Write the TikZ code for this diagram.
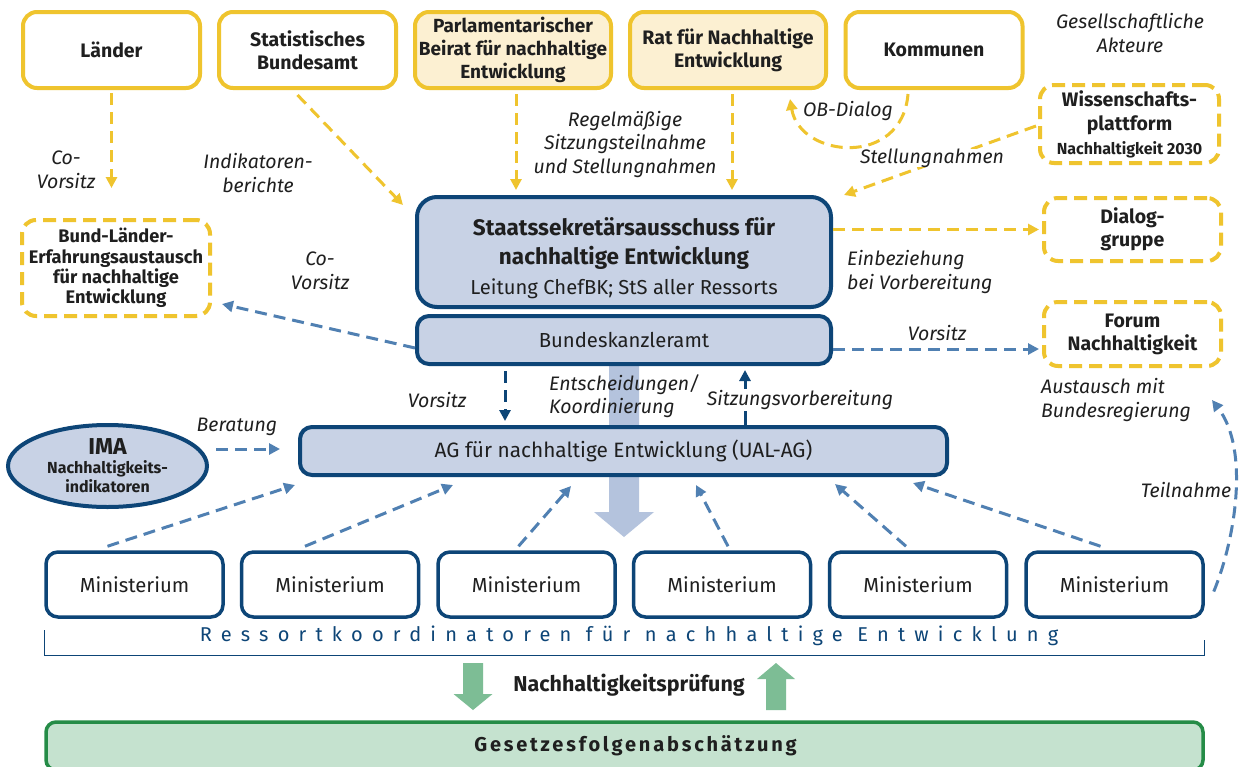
\documentclass[tikz,border=0pt]{standalone}
\usepackage{fontspec}
\setmainfont{Fira Sans}
\usetikzlibrary{arrows.meta,calc,shapes.geometric}
\definecolor{yel}{HTML}{EFC42E}
\definecolor{yelfill}{HTML}{FCF0D2}
\definecolor{dblue}{HTML}{0D4577}
\definecolor{lblue}{HTML}{C8D2E5}
\definecolor{mblue}{HTML}{5080B2}
\definecolor{sblue}{HTML}{B4C3DD}
\definecolor{garr}{HTML}{7DBD95}
\definecolor{gfill}{HTML}{C5E2CF}
\definecolor{gline}{HTML}{258C47}
\definecolor{txt}{HTML}{1F1F1F}
\newcommand\fB{\bfseries\fontsize{19.5}{23}\selectfont}
\newcommand\fR{\fontsize{20.3}{23}\selectfont}
\newcommand\fI{\itshape\fontsize{19.5}{23.5}\selectfont}
\tikzset{
  every node/.style={text=txt},
  ybox/.style={draw=yel, line width=4pt, rounded corners=14pt, align=center, font=\fB, minimum width=177pt, minimum height=76pt, inner sep=2pt},
  ydash/.style={ybox, dash pattern=on 13pt off 7pt},
  bbox/.style={draw=dblue, line width=4pt, fill=lblue, rounded corners=12pt, align=center, font=\fR, inner sep=2pt},
  mbox/.style={draw=dblue, line width=3.5pt, fill=white, rounded corners=12pt, minimum width=177pt, minimum height=65pt, font=\fR},
  yarr/.style={draw=yel, line width=3pt, dash pattern=on 12pt off 7pt, -{Triangle[length=11pt,width=11pt]}},
  barr/.style={draw=mblue, line width=3pt, dash pattern=on 12pt off 7pt, -{Triangle[length=11pt,width=11pt]}},
  darr/.style={draw=dblue, line width=3pt, -{Triangle[length=11pt,width=11pt]}},
  lab/.style={font=\fI, align=center, inner sep=1pt},
}
\begin{document}
\begin{tikzpicture}[x=1pt,y=-1pt]
\useasboundingbox (0,0) rectangle (1241,766);
\clip (0,0) rectangle (1241,766);
\fill[white] (0,0) rectangle (1241,766);
% big light-blue arrow
\fill[sblue] (609,362) -- (639,362) -- (639,512) -- (654,512) -- (624,537) -- (594,512) -- (609,512) -- cycle;

% top boxes
\node[ybox] (laender) at (111.5,50) {Länder};
\node[ybox] (stat) at (307.5,50) {Statistisches\\Bundesamt};
\node[ybox, fill=yelfill, minimum width=196pt, font=\bfseries\fontsize{19}{23}\selectfont] (parl) at (513,50) {Parlamentarischer\\Beirat für nachhaltige\\Entwicklung};
\node[ybox, fill=yelfill, minimum width=196pt] (rat) at (728,50) {Rat für Nachhaltige\\Entwicklung};
\node[ybox] (kom) at (934,50) {Kommunen};
\node[lab] (ges) at (1130,33) {Gesellschaftliche\\Akteure};

% dashed yellow boxes
\node[ydash, minimum width=179pt, minimum height=78pt, font=\bfseries\fontsize{19.5}{24}\selectfont] (wiss) at (1129.5,124) {Wissenschafts-\\plattform\\{\fontsize{16}{19}\selectfont Nachhaltigkeit 2030}};
\node[ydash, minimum height=63pt] (dialog) at (1132.5,229.5) {Dialog-\\gruppe};
\node[ydash, minimum height=64pt] (forum) at (1132.5,334) {Forum\\Nachhaltigkeit};
\node[ydash, minimum width=188pt, minimum height=96pt, font=\bfseries\fontsize{18.2}{20.3}\selectfont] (bl) at (116,268) {Bund-Länder-\\Erfahrungsaustausch\\für nachhaltige\\Entwicklung};

% blue boxes
\node[bbox, minimum width=414pt, minimum height=110pt, rounded corners=20pt, font=\fontsize{22.5}{29.5}\selectfont] (staats) at (624,252) {{\bfseries\rule{0pt}{30pt}Staatssekretärsausschuss für}\\{\bfseries nachhaltige Entwicklung}\\{\fontsize{20.2}{29.5}\selectfont Leitung ChefBK; StS aller Ressorts}};
\node[bbox, minimum width=414pt, minimum height=48pt] (bka) at (624,340) {Bundeskanzleramt};
\node[bbox, minimum width=647pt, minimum height=48pt, font=\fontsize{20.8}{23}\selectfont] (ag) at (623.5,451) {AG für nachhaltige Entwicklung (UAL-AG)};
\node[ellipse, draw=dblue, line width=4pt, fill=lblue, minimum width=199pt, minimum height=82pt, align=center, inner sep=0pt, font=\bfseries\fontsize{16}{19}\selectfont] (ima) at (107.5,466) {{\fontsize{23}{22}\selectfont IMA}\\Nachhaltigkeits-\\indikatoren};

% Ministerien
\foreach \i/\x in {1/134.5,2/330,3/526.5,4/722,5/918,6/1114.5}
  \node[mbox] (m\i) at (\x,584.5) {Ministerium};

% bracket
\draw[dblue, line width=1pt] (44,630) -- (44,655) -- (1204,655) -- (1204,640);
\node[text=dblue, font=\fontsize{20}{22}\selectfont\addfontfeature{LetterSpace=46}] (ress) at (629,636) {Ressortkoordinatoren für nachhaltige Entwicklung};

% green arrows and box
\fill[garr] (463,663) -- (483,663) -- (483,694) -- (492.5,694) -- (473,710) -- (453.5,694) -- (463,694) -- cycle;
\fill[garr] (766,710) -- (786,710) -- (786,679) -- (795,679) -- (776,663) -- (757,679) -- (766,679) -- cycle;
\node[font=\bfseries\fontsize{21.5}{24}\selectfont] (nhp) at (629,685) {Nachhaltigkeitsprüfung};
\node[draw=gline, fill=gfill, line width=3.5pt, rounded corners=10pt, minimum width=1157pt, minimum height=48pt, font=\bfseries\fontsize{20}{22}\selectfont\addfontfeature{LetterSpace=14}] (gfa) at (624.5,746) {\hspace*{22pt}Gesetzesfolgenabschätzung};

% yellow connectors
\draw[yarr] ($(laender.south)+(0,3)$) -- ($(bl.north)+(-4.5,-30)$);
\draw[yarr] ($(stat.south)+(-10,5)$) -- ($(staats.north west)+(-12,10)$);
\draw[yarr] ($(parl.south)+(3,4)$) -- ($(staats.north -| parl.south)+(3,-5)$);
\draw[yarr] ($(rat.south)+(4,4)$) -- ($(staats.north -| rat.south)+(4,-5)$);
\draw[yarr] ($(kom.south)+(-26,4)$) .. controls (902,168) and (800,158) .. ($(rat.south east)+(-38,9)$);
\draw[yarr] ($(wiss.west)+(-2,2)$) -- ($(staats.north east)+(11,0)$);
\draw[yarr] (staats.east |- dialog.west) -- ($(dialog.west)+(-3,0)$);

% blue connectors
\draw[barr] ($(bka.west)+(0,8)$) -- ($(bl.south east)+(10,-14)$);
\draw[barr] ($(bka.east)+(0,9)$) -- ($(forum.west)+(-3,15)$);
\draw[darr, dash pattern=on 12pt off 7pt] ($(bka.south)+(-119,5)$) -- ($(ag.north)+(-118.5,-4)$);
\draw[darr] ($(ag.north)+(121.5,0)$) -- ($(bka.south)+(121,4)$);
\draw[barr] ($(ima.east)+(7,-17)$) -- ($(ag.west)+(-18,-2)$);
\draw[barr] ($(m1.north)+(-27,-4)$) -- ($(ag.south)+(-328.5,8)$);
\draw[barr] ($(m2.north)+(-25,-4)$) -- ($(ag.south)+(-170.5,8)$);
\draw[barr] ($(m3.north)+(-8,-4)$) -- ($(ag.south)+(-52.5,9)$);
\draw[barr] ($(m4.north)+(6,-4)$) -- ($(ag.south)+(72.5,8)$);
\draw[barr] ($(m5.north)+(-12,-4)$) -- ($(ag.south)+(211.5,7)$);
\draw[barr] ($(m6.north)+(-14,-4)$) -- ($(ag.south)+(289.5,6)$);
\draw[barr] ($(m6.east)+(9,7)$) .. controls (1235,540) and (1250,450) .. ($(forum.south east)+(-11,32)$);

% labels
\node[lab] at (66,170) {Co-\\Vorsitz};
\node[lab] at (258,173) {Indikatoren-\\berichte};
\node[lab] at (320,271) {Co-\\Vorsitz};
\node[lab] at (625,144) {Regelmäßige\\Sitzungsteilnahme\\und Stellungnahmen};
\node[lab] at (848,111) {OB-Dialog};
\node[lab, fill=white, inner sep=0pt] at (932,158) {Stellungnahmen};
\node[lab, align=left, anchor=west] at (846,272) {Einbeziehung\\bei Vorbereitung};
\node[lab] at (937,333) {Vorsitz};
\node[lab, align=left, anchor=west] at (1040,400) {Austausch mit\\Bundesregierung};
\node[lab] at (437,400) {Vorsitz};
\node[lab, align=left, anchor=west] at (548,396) {Entscheidungen/\\Koordinierung};
\node[lab, fill=white] at (800,400) {Sitzungsvorbereitung};
\node[lab] at (237,427) {Beratung};
\node[lab] at (1186,490) {Teilnahme};
\end{tikzpicture}
\end{document}
